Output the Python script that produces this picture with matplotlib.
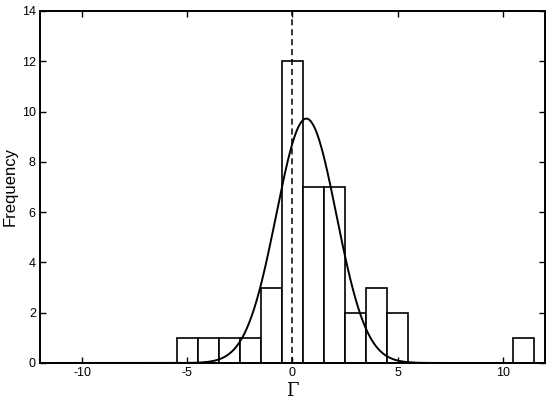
import matplotlib
matplotlib.use("Agg")
import matplotlib.pyplot as plt
import numpy as np

# histogram bins (width 1, centred on integers) and counts
bin_centers = [-5, -4, -3, -2, -1, 0, 1, 2, 3, 4, 5, 11]
counts = [1, 1, 1, 1, 3, 12, 7, 7, 2, 3, 2, 1]

# fitted gaussian (amplitude, mean, sigma)
fit_amp = 9.72
fit_mu = 0.66
fit_sigma = 1.43

plt.rcParams['font.family'] = ['Liberation Sans', 'DejaVu Sans']
plt.rcParams['axes.unicode_minus'] = False

fig = plt.figure(figsize=(5.5, 4.01), dpi=100)
ax = fig.add_axes([0.0727, 0.0948, 0.918, 0.8778])

ax.bar(bin_centers, counts, width=1.0, facecolor='white', edgecolor='black', linewidth=1.2)

xs = np.linspace(-12, 12, 600)
ax.plot(xs, fit_amp * np.exp(-(xs - fit_mu) ** 2 / (2 * fit_sigma ** 2)), color='black', linewidth=1.4)

ax.axvline(0, color='black', linestyle=(0, (4, 2.5)), linewidth=1.1)

ax.set_xlim(-12, 12)
ax.set_ylim(0, 14)
ax.set_xticks([-10, -5, 0, 5, 10])
ax.set_yticks(range(0, 15, 2))
ax.tick_params(direction='in', top=True, right=True, length=4, width=1, labelsize=9, pad=3)
for s in ax.spines.values():
    s.set_linewidth(1.4)

ax.set_xlabel('Γ', family=['DejaVu Serif'], fontsize=13, labelpad=2)
ax.set_ylabel('Frequency', fontsize=12, labelpad=3)

fig.savefig('out.png', dpi=100)
